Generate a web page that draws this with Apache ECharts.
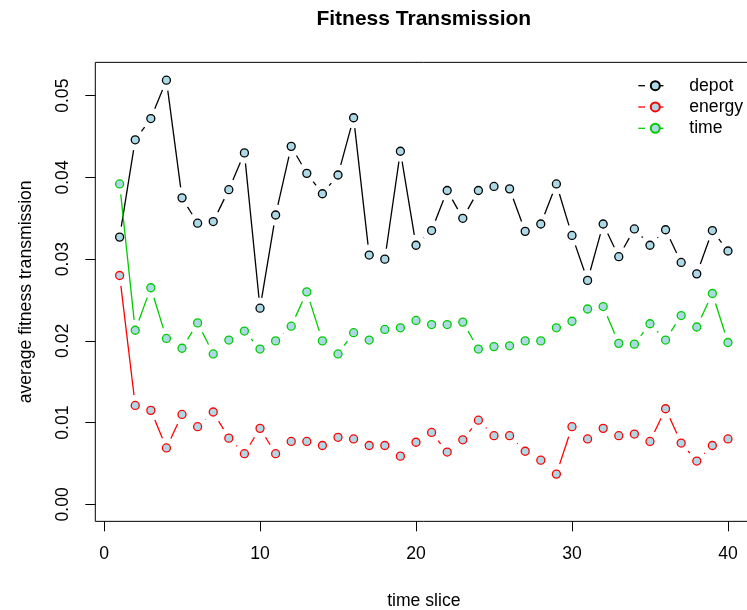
<!DOCTYPE html>
<html>
<head>
<meta charset="utf-8">
<script src="https://cdn.jsdelivr.net/npm/echarts@6/dist/echarts.min.js"></script>
<style>html,body{margin:0;padding:0;background:#fff;overflow:hidden;width:747px;height:610px}#c{width:760px;height:610px}</style>
</head>
<body>
<div id="c"></div>
<script>
var slices = [1,2,3,4,5,6,7,8,9,10,11,12,13,14,15,16,17,18,19,20,21,22,23,24,25,26,27,28,29,30,31,32,33,34,35,36,37,38,39,40];
var depot = [0.0327,0.0446,0.0472,0.0519,0.0375,0.0344,0.0346,0.0385,0.0430,0.0240,0.0354,0.0438,0.0405,0.0380,0.0403,0.0473,0.0305,0.0300,0.0432,0.0317,0.0335,0.0384,0.0350,0.0384,0.0389,0.0386,0.0334,0.0343,0.0392,0.0329,0.0274,0.0343,0.0303,0.0337,0.0317,0.0336,0.0296,0.0282,0.0335,0.0310];
var energy = [0.0280,0.0121,0.0115,0.0069,0.0110,0.0095,0.0113,0.0081,0.0062,0.0093,0.0062,0.0077,0.0077,0.0072,0.0082,0.0080,0.0072,0.0072,0.0059,0.0076,0.0088,0.0064,0.0079,0.0103,0.0084,0.0084,0.0065,0.0054,0.0037,0.0095,0.0080,0.0093,0.0084,0.0086,0.0077,0.0117,0.0075,0.0053,0.0072,0.0080];
var time = [0.0392,0.0213,0.0265,0.0203,0.0191,0.0222,0.0184,0.0201,0.0212,0.0190,0.0200,0.0218,0.0260,0.0200,0.0184,0.0210,0.0201,0.0214,0.0216,0.0225,0.0220,0.0220,0.0223,0.0190,0.0193,0.0194,0.0200,0.0200,0.0216,0.0224,0.0239,0.0242,0.0197,0.0196,0.0221,0.0201,0.0231,0.0217,0.0258,0.0198];
var xTicks = [0,10,20,30,40];
var yTicks = [0,0.01,0.02,0.03,0.04,0.05];
var seriesNames = ['depot','energy','time'];
var seriesColors = ['#000000','#FF0000','#00CD00'];

var FONT = 'Liberation Sans, Arial, Helvetica, sans-serif';
var GAP = 10.5;
var chart = echarts.init(document.getElementById('c'), null, {renderer:'canvas'});

function pts(vals){ return vals.map(function(v,i){ return [slices[i], v]; }); }
function segs(vals){
  var out = [];
  for (var i = 0; i < vals.length - 1; i++) out.push([slices[i], vals[i], slices[i+1], vals[i+1]]);
  return out;
}
function makeRender(color){
  return function(params, api){
    var p1 = api.coord([api.value(0), api.value(1)]);
    var p2 = api.coord([api.value(2), api.value(3)]);
    var dx = p2[0]-p1[0], dy = p2[1]-p1[1];
    var d = Math.sqrt(dx*dx+dy*dy);
    if (d <= 2*GAP) return null;
    var ux = dx/d, uy = dy/d;
    return {type:'line', shape:{x1:p1[0]+ux*GAP, y1:p1[1]+uy*GAP, x2:p2[0]-ux*GAP, y2:p2[1]-uy*GAP},
      style:{stroke:color, lineWidth:1.3}};
  };
}

var allVals = [depot, energy, time];
var series = [];
allVals.forEach(function(vals, k){
  series.push({
    name: seriesNames[k] + ' line', type:'custom', renderItem: makeRender(seriesColors[k]),
    data: segs(vals), encode:{x:[0,2], y:[1,3]}, silent:true, z:2, clip:false
  });
});
allVals.forEach(function(vals, k){
  series.push({
    name: seriesNames[k], type:'scatter', data: pts(vals), symbol:'circle', symbolSize:8,
    itemStyle:{color:'#ADD8E6', borderColor:seriesColors[k], borderWidth:1.3, opacity:1},
    silent:true, z:3
  });
});

var graphics = [];
var rowY = [85.7, 107.0, 128.3];
for (var k = 0; k < 3; k++) {
  graphics.push({type:'line', shape:{x1:638.3, y1:rowY[k], x2:645, y2:rowY[k]}, style:{stroke:seriesColors[k], lineWidth:1.3}});
  graphics.push({type:'line', shape:{x1:658.8, y1:rowY[k], x2:663.5, y2:rowY[k]}, style:{stroke:seriesColors[k], lineWidth:1.3}});
}

chart.setOption({
  animation:false,
  backgroundColor:'#ffffff',
  textStyle:{fontFamily:FONT, color:'#000'},
  title:{text:'Fitness Transmission', left:423.8, top:9, padding:0, textAlign:'center',
    textStyle:{fontFamily:FONT, fontSize:21, fontWeight:'bold', color:'#000'}},
  legend:{
    data: seriesNames, orient:'vertical', left:649.8, top:75, padding:0,
    itemWidth:9, itemHeight:9, itemGap:0, icon:'circle', selectedMode:false,
    textStyle:{fontFamily:FONT, fontSize:17.6, color:'#000', lineHeight:21.3, padding:[0,0,0,24.5]}
  },
  grid:{left:95.3, top:62.35, width:657, height:459, show:true, borderColor:'#000', borderWidth:1,
    backgroundColor:'transparent', containLabel:false, outerBoundsMode:'none'},
  xAxis:{
    type:'value', min:-0.56, max:41.56,
    name:'time slice', nameLocation:'middle', nameGap:71,
    nameTextStyle:{fontFamily:FONT, fontSize:17.6, color:'#000'},
    axisLine:{show:false, onZero:false},
    axisTick:{show:true, inside:false, length:10, lineStyle:{color:'#000', width:1}, customValues:xTicks},
    axisLabel:{show:true, margin:24, fontFamily:FONT, fontSize:17.6, color:'#000', customValues:xTicks,
      formatter:function(v){ return String(v); }},
    splitLine:{show:false}
  },
  yAxis:{
    type:'value', min:-0.00208, max:0.05408,
    name:'average fitness transmission', nameLocation:'middle', nameGap:60, nameRotate:90,
    nameTextStyle:{fontFamily:FONT, fontSize:17.6, color:'#000'},
    axisLine:{show:false, onZero:false},
    axisTick:{show:true, inside:false, length:10, lineStyle:{color:'#000', width:1}, customValues:yTicks},
    axisLabel:{show:true, rotate:90, margin:23, fontFamily:FONT, fontSize:17.6, color:'#000', customValues:yTicks,
      formatter:function(v){ return Number(v).toFixed(2); }},
    splitLine:{show:false}
  },
  graphic: graphics,
  series: series
});
</script>
</body>
</html>
